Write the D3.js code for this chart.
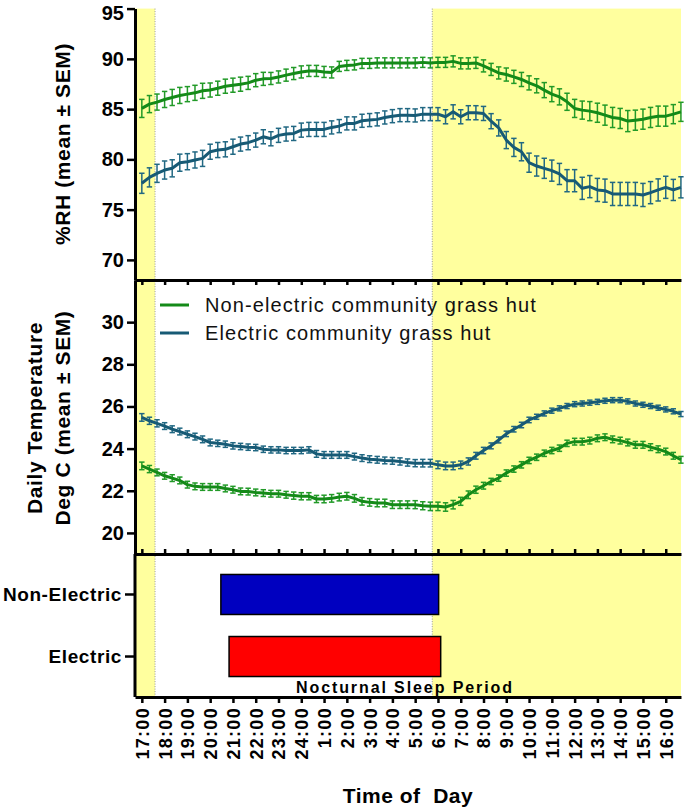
<!DOCTYPE html>
<html><head><meta charset="utf-8">
<script src="https://cdn.jsdelivr.net/npm/d3@7"></script>
<style>
html,body{margin:0;padding:0;background:#fff;}
svg{display:block;font-family:"Liberation Sans",Arial,Helvetica,sans-serif;}
</style></head><body>
<svg id="chart" width="685" height="809"></svg>
<script>
// ---------- DATA ----------
const hourLabels = ["17:00","18:00","19:00","20:00","21:00","22:00","23:00","24:00",
  "1:00","2:00","3:00","4:00","5:00","6:00","7:00","8:00","9:00","10:00","11:00",
  "12:00","13:00","14:00","15:00","16:00"];
const seriesNames = ["Non-electric community grass hut","Electric community grass hut"];
const categories = ["Non-Electric","Electric"];
// hours after 17:00
const sleepStart = [3.47, 3.83];
const sleepEnd = [13.03, 13.12];
const daylight = [[-0.3, 0.58], [12.75, 23.67]];
const nightEdges = [0.58, 12.75];

const rhNonElectric = [
 85.07,85.50,85.70,85.96,86.16,86.36,86.49,86.62,86.82,86.90,87.08,87.28,
 87.38,87.48,87.61,87.88,88.01,88.05,88.20,88.38,88.54,88.70,88.80,88.80,
 88.70,88.65,89.25,89.35,89.40,89.55,89.55,89.60,89.60,89.60,89.60,89.60,
 89.60,89.65,89.60,89.65,89.65,89.75,89.55,89.55,89.60,89.30,88.95,88.60,
 88.44,88.21,87.95,87.61,87.32,86.89,86.49,86.22,85.73,85.07,84.90,84.80,
 84.64,84.40,84.17,84.07,83.81,83.90,84.00,84.17,84.30,84.30,84.50,84.73];
const rhElectric = [
 77.62,78.21,78.61,78.94,79.11,79.67,79.77,79.94,80.10,80.76,80.93,81.00,
 81.26,81.52,81.66,81.92,82.25,82.05,82.39,82.52,82.58,82.91,82.98,82.98,
 82.98,83.18,83.31,83.58,83.58,83.84,83.91,83.98,84.17,84.30,84.40,84.40,
 84.37,84.50,84.50,84.50,84.24,84.73,84.24,84.64,84.64,84.57,83.80,83.13,
 81.92,81.19,80.76,79.67,79.34,79.11,78.88,78.55,77.88,77.88,77.12,77.29,
 76.96,76.89,76.56,76.56,76.56,76.56,76.46,76.69,76.96,77.22,76.96,77.22];
const rhNonSem = [
 0.90,0.85,0.80,0.80,0.80,0.80,0.75,0.75,0.75,0.70,0.70,0.70,
 0.70,0.70,0.65,0.65,0.65,0.60,0.60,0.60,0.60,0.60,0.55,0.55,
 0.55,0.55,0.50,0.50,0.50,0.50,0.50,0.50,0.50,0.50,0.50,0.50,
 0.50,0.50,0.50,0.50,0.50,0.55,0.55,0.55,0.55,0.60,0.60,0.60,
 0.65,0.65,0.70,0.70,0.70,0.75,0.75,0.80,0.85,0.90,0.90,0.95,
 0.95,1.00,1.00,1.00,1.05,1.00,1.00,1.00,1.00,1.00,0.95,0.95];
const rhElSem = [
 1.00,0.95,0.90,0.90,0.85,0.85,0.80,0.80,0.80,0.75,0.75,0.75,
 0.75,0.70,0.70,0.70,0.70,0.70,0.70,0.70,0.70,0.70,0.70,0.70,
 0.70,0.65,0.65,0.65,0.65,0.65,0.65,0.65,0.65,0.65,0.65,0.65,
 0.65,0.65,0.65,0.65,0.70,0.70,0.70,0.70,0.70,0.70,0.75,0.80,
 0.85,0.90,0.90,0.95,1.00,1.00,1.05,1.05,1.10,1.10,1.10,1.10,
 1.15,1.15,1.15,1.15,1.15,1.15,1.15,1.10,1.10,1.10,1.05,1.05];
const tempElectric = [
 25.48,25.32,25.20,25.07,24.92,24.81,24.68,24.57,24.44,24.29,24.25,24.21,
 24.13,24.10,24.07,24.05,23.97,23.94,23.94,23.91,23.91,23.91,23.94,23.75,
 23.70,23.70,23.70,23.70,23.62,23.55,23.50,23.47,23.44,23.42,23.39,23.34,
 23.31,23.31,23.31,23.23,23.18,23.18,23.23,23.39,23.66,23.91,24.13,24.41,
 24.70,24.92,25.12,25.36,25.51,25.67,25.80,25.91,26.02,26.11,26.14,26.18,
 26.22,26.27,26.30,26.30,26.24,26.14,26.08,26.02,25.94,25.86,25.77,25.64];
const tempNonElectric = [
 23.18,23.03,22.87,22.71,22.60,22.49,22.29,22.21,22.18,22.18,22.18,22.11,
 22.05,21.97,21.96,21.92,21.89,21.86,21.86,21.81,21.77,21.74,21.74,21.61,
 21.61,21.64,21.70,21.74,21.64,21.50,21.45,21.42,21.42,21.34,21.34,21.34,
 21.34,21.29,21.26,21.26,21.23,21.34,21.50,21.81,22.05,22.24,22.44,22.60,
 22.84,23.03,23.23,23.44,23.59,23.78,23.91,24.02,24.25,24.33,24.33,24.38,
 24.49,24.54,24.44,24.38,24.29,24.18,24.18,24.07,23.97,23.86,23.66,23.47];
const tempElSem = [
 0.18,0.17,0.17,0.16,0.16,0.16,0.16,0.16,0.16,0.16,0.15,0.15,
 0.15,0.15,0.15,0.15,0.15,0.15,0.15,0.15,0.15,0.15,0.15,0.16,
 0.16,0.16,0.16,0.16,0.16,0.16,0.16,0.16,0.16,0.16,0.17,0.17,
 0.17,0.18,0.18,0.18,0.18,0.18,0.18,0.17,0.16,0.15,0.14,0.14,
 0.13,0.13,0.13,0.13,0.12,0.12,0.12,0.12,0.12,0.12,0.12,0.12,
 0.12,0.12,0.12,0.12,0.12,0.12,0.12,0.12,0.12,0.12,0.12,0.12];
const tempNonSem = [
 0.18,0.17,0.16,0.16,0.16,0.16,0.16,0.16,0.16,0.16,0.16,0.16,
 0.16,0.16,0.16,0.16,0.16,0.16,0.16,0.16,0.17,0.17,0.17,0.17,
 0.18,0.18,0.18,0.18,0.18,0.18,0.18,0.18,0.18,0.18,0.18,0.18,
 0.19,0.19,0.20,0.20,0.20,0.20,0.19,0.18,0.17,0.16,0.15,0.15,
 0.15,0.15,0.15,0.15,0.15,0.15,0.15,0.15,0.15,0.16,0.16,0.16,
 0.16,0.16,0.16,0.16,0.16,0.16,0.16,0.16,0.16,0.16,0.16,0.16];

// ---------- STYLE ----------
const GREEN = "#148a18", GREEN_BAR = "#229a28";
const BLUE = "#175a75", BLUE_BAR = "#216883";
const YELLOW = "#ffff9e";

const svg = d3.select("#chart");
const x = d3.scaleLinear().domain([-0.3, 23.67]).range([135, 681]);
const yRH = d3.scaleLinear().domain([68, 95]).range([280, 8.6]);
const yT = d3.scaleLinear().domain([19, 32]).range([554, 280]);
const yCat = d3.scaleBand().domain(categories).range([554, 697]).paddingInner(0.355).paddingOuter(0.33);
const tHour = i => i / 3; // samples every 20 minutes

// yellow daylight shading
svg.append("g").selectAll("rect").data(daylight).join("rect")
  .attr("x", d => x(d[0])).attr("width", d => x(d[1]) - x(d[0]))
  .attr("y", yRH(95)).attr("height", 697 - yRH(95)).attr("fill", YELLOW);
svg.append("g").selectAll("line").data(nightEdges).join("line")
  .attr("x1", d => x(d)).attr("x2", d => x(d)).attr("y1", yRH(95)).attr("y2", 697)
  .attr("stroke", "#9a9a9a").attr("stroke-width", 1).attr("stroke-dasharray", "1,1.5");

function drawSeries(y, vals, sems, color, barColor) {
  const g = svg.append("g");
  const eb = g.selectAll("g").data(vals).join("g").attr("stroke", barColor).attr("stroke-width", 1.5);
  eb.append("line").attr("x1", (d, i) => x(tHour(i))).attr("x2", (d, i) => x(tHour(i)))
    .attr("y1", (d, i) => y(d - sems[i])).attr("y2", (d, i) => y(d + sems[i]));
  eb.append("line").attr("x1", (d, i) => x(tHour(i)) - 2.7).attr("x2", (d, i) => x(tHour(i)) + 2.7)
    .attr("y1", (d, i) => y(d - sems[i])).attr("y2", (d, i) => y(d - sems[i]));
  eb.append("line").attr("x1", (d, i) => x(tHour(i)) - 2.7).attr("x2", (d, i) => x(tHour(i)) + 2.7)
    .attr("y1", (d, i) => y(d + sems[i])).attr("y2", (d, i) => y(d + sems[i]));
  const line = d3.line().x((d, i) => x(tHour(i))).y(d => y(d));
  g.append("path").datum(vals).attr("d", line).attr("fill", "none")
    .attr("stroke", color).attr("stroke-width", 3).attr("stroke-linejoin", "round");
}
drawSeries(yRH, rhNonElectric, rhNonSem, GREEN, GREEN_BAR);
drawSeries(yRH, rhElectric, rhElSem, BLUE, BLUE_BAR);
drawSeries(yT, tempElectric, tempElSem, BLUE, BLUE_BAR);
drawSeries(yT, tempNonElectric, tempNonSem, GREEN, GREEN_BAR);

// sleep bars
const barColors = ["#0000c0", "#ff0000"];
svg.append("g").selectAll("rect").data(categories).join("rect")
  .attr("x", (d, i) => x(sleepStart[i])).attr("width", (d, i) => x(sleepEnd[i]) - x(sleepStart[i]))
  .attr("y", d => yCat(d)).attr("height", yCat.bandwidth())
  .attr("fill", (d, i) => barColors[i]).attr("stroke", "#000").attr("stroke-width", 1.5);

svg.append("text").attr("x", 296).attr("y", 693).attr("font-size", 16).attr("font-weight", "bold")
  .attr("letter-spacing", "1.9px").attr("fill", "#000").text("Nocturnal Sleep Period");

// legend
const legend = svg.append("g");
seriesNames.forEach((name, i) => {
  const ly = 305 + i * 28;
  legend.append("line").attr("x1", 160).attr("x2", 189).attr("y1", ly).attr("y2", ly)
    .attr("stroke", i === 0 ? GREEN : BLUE).attr("stroke-width", 3);
  legend.append("text").attr("x", 205).attr("y", ly).attr("dy", "0.35em")
    .attr("font-size", 20).attr("letter-spacing", "1.1px").attr("fill", "#111").text(name);
});

// axes
function styleAxis(g, fs) {
  g.select(".domain").attr("stroke", "#000").attr("stroke-width", 3);
  g.selectAll(".tick line").attr("stroke", "#000").attr("stroke-width", 2.5);
  g.selectAll(".tick text").attr("font-size", fs).attr("font-weight", "bold").attr("fill", "#000")
    .attr("font-family", '"Liberation Sans",Arial,sans-serif');
}
const hours = d3.range(hourLabels.length);
// RH y axis
const gRH = svg.append("g").attr("transform", "translate(135,0)")
  .call(d3.axisLeft(yRH).tickValues([70, 75, 80, 85, 90, 95]).tickSize(8).tickSizeOuter(0).tickPadding(3));
styleAxis(gRH, 20);
// keep the top label inside the picture
gRH.selectAll(".tick text").filter(d => d === 95).attr("dy", "0.52em");
// Temp y axis
const gT = svg.append("g").attr("transform", "translate(135,0)")
  .call(d3.axisLeft(yT).tickValues([20, 22, 24, 26, 28, 30]).tickSize(8).tickSizeOuter(0).tickPadding(3));
styleAxis(gT, 20);
// category axis
const gC = svg.append("g").attr("transform", "translate(135,0)")
  .call(d3.axisLeft(yCat).tickSize(10).tickSizeOuter(0).tickPadding(3));
styleAxis(gC, 19);
gC.selectAll(".tick text").attr("letter-spacing", "0.6px");
gC.select(".domain").attr("d", "M0,554V697");

// x axes
const gX1 = svg.append("g").attr("transform", "translate(0,280)")
  .call(d3.axisBottom(x).tickValues(hours).tickFormat("").tickSize(5).tickSizeOuter(0));
styleAxis(gX1, 1);
const gX2 = svg.append("g").attr("transform", "translate(0,554)")
  .call(d3.axisTop(x).tickValues(hours).tickFormat("").tickSize(5).tickSizeOuter(0));
styleAxis(gX2, 1);
const gX3 = svg.append("g").attr("transform", "translate(0,697)")
  .call(d3.axisBottom(x).tickValues(hours).tickFormat(i => hourLabels[i]).tickSize(6).tickSizeOuter(0));
styleAxis(gX3, 18);
gX3.selectAll(".tick text").attr("transform", "rotate(-90)").attr("text-anchor", "end")
  .attr("x", -10).attr("y", 0).attr("dy", "0.36em").attr("letter-spacing", "1.3px");

// titles
svg.append("text").attr("transform", "translate(70,144) rotate(-90)").attr("text-anchor", "middle")
  .attr("font-size", 21).attr("font-weight", "bold").attr("letter-spacing", "0.6px").text("%RH (mean ± SEM)");
svg.append("text").attr("transform", "translate(42,418) rotate(-90)").attr("text-anchor", "middle")
  .attr("font-size", 21).attr("font-weight", "bold").attr("letter-spacing", "0.6px").text("Daily Temperature");
svg.append("text").attr("transform", "translate(70,418) rotate(-90)").attr("text-anchor", "middle")
  .attr("font-size", 21).attr("font-weight", "bold").attr("letter-spacing", "0.6px").text("Deg C (mean ± SEM)");
svg.append("text").attr("x", 408).attr("y", 803).attr("text-anchor", "middle")
  .attr("font-size", 21).attr("font-weight", "bold").style("white-space", "pre").attr("letter-spacing", "0.5px")
  .text("Time of  Day");
</script>
</body></html>
